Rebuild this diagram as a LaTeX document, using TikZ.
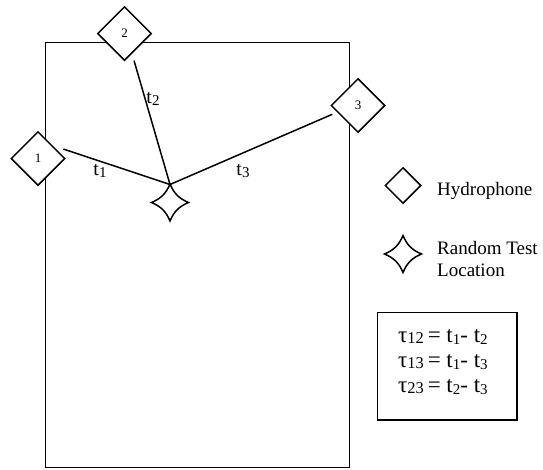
\documentclass[tikz,border=0pt]{standalone}
\usepackage{fontspec}
\setmainfont{Liberation Serif}
\usetikzlibrary{shapes.geometric}
\newcommand{\lsub}[1]{\raisebox{-1.5pt}{\fontsize{16.5}{16.5}\selectfont #1}}
\newcommand{\tsub}[1]{\raisebox{-2pt}{\fontsize{15}{15}\selectfont #1}}
\tikzset{
  hyd/.style={diamond, draw, fill=white, line width=1.5pt, inner sep=0pt,
    minimum width=#1, minimum height=#1, font=\fontsize{13}{13}\selectfont},
  hyd/.default=54pt,
  conn/.style={line width=1.5pt},
  astar/.pic={\draw[line width=1.5pt, fill=white]
    (0,-18.5) .. controls (4,-9) and (9,-4) .. (18.5,0)
    .. controls (9,4) and (4,9) .. (0,18.5)
    .. controls (-4,9) and (-9,4) .. (-18.5,0)
    .. controls (-9,-4) and (-4,-9) .. (0,-18.5) -- cycle;},
  lbl/.style={font=\fontsize{20}{22}\selectfont, inner sep=0pt},
  leg/.style={font=\fontsize{19}{22}\selectfont, inner sep=0pt, anchor=base west},
  eq/.style={font=\fontsize{23}{25}\selectfont, inner sep=0pt, anchor=base west},
}
\begin{document}
\begin{tikzpicture}[x=1pt,y=-1pt]
\useasboundingbox (0,0) rectangle (543,469);
% tank outline
\draw[line width=1.5pt] (45.7,42.7) rectangle (349.7,467.5);
% hydrophones
\node[hyd] (d1) at (38,158.5) {1};
\node[hyd] (d2) at (124.5,33.5) {2};
\node[hyd] (d3) at (358,105.5) {3};
% test location star
\pic at (170,202.5) {astar};
\coordinate (s) at (170,184.5);
\coordinate (e1) at (63.3,149);
\coordinate (e2) at (134,60.5);
\coordinate (e3) at (332.3,114.3);
\draw[conn] (e1) -- (s);
\draw[conn] (e2) -- (s);
\draw[conn] (e3) -- (s);
\node[lbl] (t1) at (100,171) {t\tsub{1}};
\node[lbl] (t2) at (153,99) {t\tsub{2}};
\node[lbl] (t3) at (243,171) {t\tsub{3}};
% legend
\node[hyd=36pt] (lh) at (403,185.5) {};
\node[leg] (lht) at (437,195) {Hydrophone};
\pic at (403,254) {astar};
\coordinate (ls) at (403,254);
\node[leg] (lst1) at (437,254.5) {Random Test};
\node[leg] (lst2) at (437,276.5) {Location};
% equations box
\draw[line width=1.5pt] (377.7,312.5) rectangle (517,420);
\node[eq] (q1) at (398,342) {τ\lsub{12}\,= t\tsub{1}- t\tsub{2}};
\node[eq] (q2) at (398,367) {τ\lsub{13}\,= t\tsub{1}- t\tsub{3}};
\node[eq] (q3) at (398,392) {τ\lsub{23}\,= t\tsub{2}- t\tsub{3}};
\end{tikzpicture}
\end{document}
